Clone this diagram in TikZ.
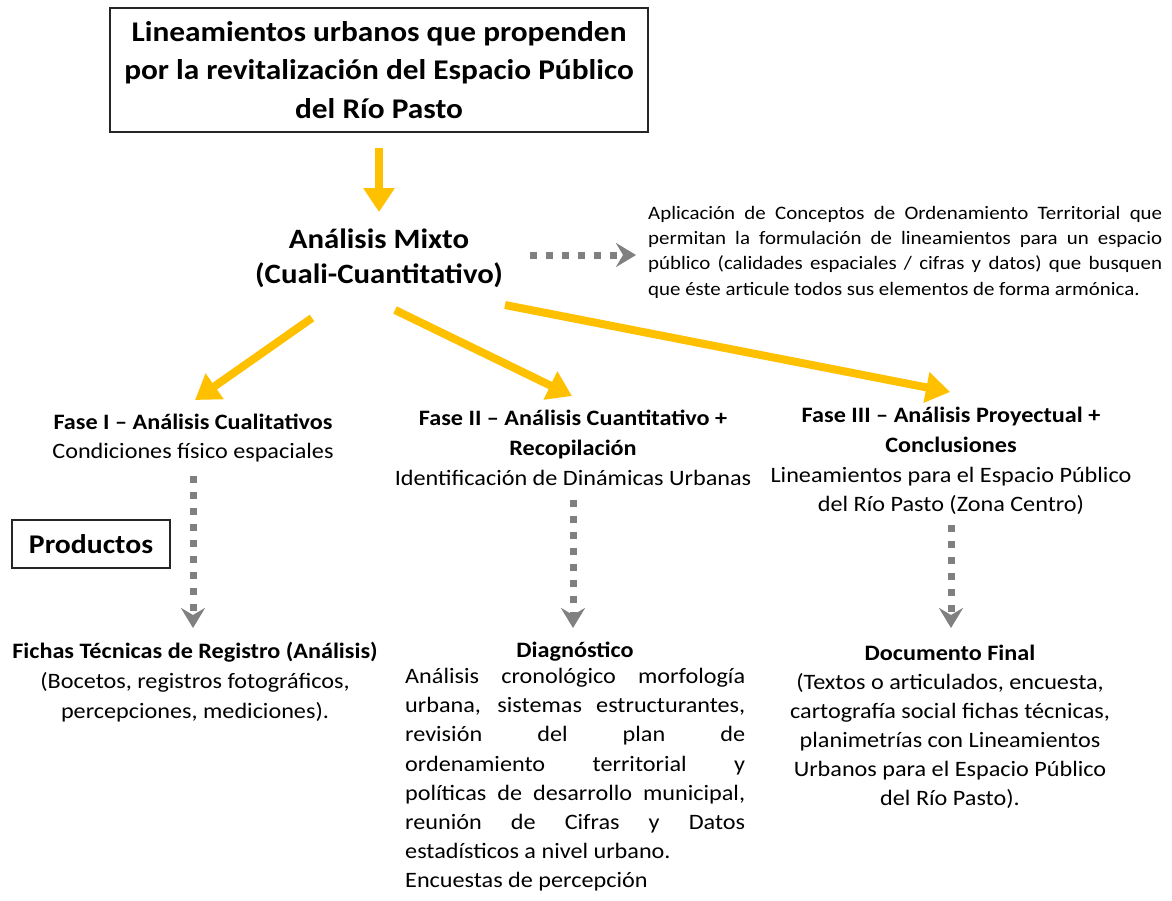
\documentclass[tikz,border=0pt]{standalone}
\usepackage{fontspec}
\setmainfont{Carlito}[FakeStretch=1.1]
\usetikzlibrary{arrows.meta}
\definecolor{ylw}{HTML}{FFC000}
\definecolor{gry}{HTML}{808080}
\begin{document}
\begin{tikzpicture}[x=1pt,y=-1pt,
  yarrow/.style={draw=ylw, line width=8pt, -{Triangle[length=24pt,width=30pt]}},
  garrow/.style={draw=gry, line width=7pt, dash pattern=on 7pt off 9pt, -{Stealth[length=20pt,width=24pt,inset=7pt]}},
  bodytext/.style={font=\fontsize{22}{29.8}\selectfont, align=center, inner sep=0pt},
  boxed/.style={draw=black!85, line width=1.6pt},
  jtext/.style={inner sep=0pt, align=justify, execute at begin node={\hyphenpenalty=10000 \tolerance=10000 \parfillskip=0pt plus 1fil}}
]
\useasboundingbox[fill=white] (0,0) rectangle (1172,900);

% title
\node[boxed, minimum width=538pt, minimum height=124pt, align=center, inner sep=0pt,
  font=\fontsize{28.5}{38.5}\selectfont\bfseries] (title) at (379,70)
  {Lineamientos urbanos que propenden\\por la revitalización del Espacio Público\\del Río Pasto};

\node[align=center, inner sep=0pt, font=\fontsize{28}{35}\selectfont\bfseries] (mixto) at (379,258)
  {Análisis Mixto\\(Cuali-Cuantitativo)};

\node[jtext, anchor=west, text width=514pt, font=\fontsize{19}{25.3}\selectfont] (aplic) at (648,252)
  {Aplicación de Conceptos de Ordenamiento Territorial que\linebreak
   permitan la formulación de lineamientos para un espacio\linebreak
   público (calidades espaciales / cifras y datos) que busquen\linebreak
   que éste articule todos sus elementos de forma armónica.\par};

% phases
\node[bodytext] (f1) at (193,438)
  {\textbf{Fase I – Análisis Cualitativos}\\Condiciones físico espaciales};
\node[bodytext] (f2) at (573,448)
  {\textbf{Fase II – Análisis Cuantitativo +}\\\textbf{Recopilación}\\Identificación de Dinámicas Urbanas};
\node[bodytext] (f3) at (951,461)
  {\textbf{Fase III – Análisis Proyectual +}\\\textbf{Conclusiones}\\Lineamientos para el Espacio Público\\del Río Pasto (Zona Centro)};

\node[boxed, minimum width=158pt, minimum height=48pt, inner sep=0pt,
  font=\fontsize{27}{30}\selectfont\bfseries] (prod) at (91,544) {Productos};

% products
\node[bodytext] (fichas) at (195,682)
  {\textbf{Fichas Técnicas de Registro (Análisis)}\\(Bocetos, registros fotográficos,\\percepciones, mediciones).};
\node[bodytext] (diag) at (575,652) {\textbf{Diagnóstico}};
\node[jtext, anchor=north west, text width=340pt, font=\fontsize{22}{29.2}\selectfont] (diagtxt) at (405,668)
  {Análisis cronológico morfología\linebreak
   urbana, sistemas estructurantes,\linebreak
   revisión del plan de\linebreak
   ordenamiento territorial y\linebreak
   políticas de desarrollo municipal,\linebreak
   reunión de Cifras y Datos\linebreak
   estadísticos a nivel urbano.\par
   Encuestas de percepción\par};
\node[bodytext, font=\fontsize{22}{29}\selectfont] (docf) at (950,727)
  {\textbf{Documento Final}\\(Textos o articulados, encuesta,\\cartografía social fichas técnicas,\\planimetrías con Lineamientos\\Urbanos para el Espacio Público\\del Río Pasto).};

% connector end points
\coordinate (tA) at (379,148);
\coordinate (tB) at (379,212);
\coordinate (m1) at (312,318);
\coordinate (e1) at (195,400);
\coordinate (m2) at (395,310);
\coordinate (e2) at (572,396);
\coordinate (m3) at (505,305);
\coordinate (e3) at (950,392);
\coordinate (h1) at (530,255);
\coordinate (h2) at (636,255);
\coordinate (g1a) at (193,476);
\coordinate (g1b) at (193,628);
\coordinate (g2a) at (573,500);
\coordinate (g2b) at (573,628);
\coordinate (g3a) at (951,525);
\coordinate (g3b) at (951,628);

\draw[yarrow] (tA) -- (tB);
\draw[yarrow] (m1) -- (e1);
\draw[yarrow] (m2) -- (e2);
\draw[yarrow] (m3) -- (e3);
\draw[garrow] (h1) -- (h2);
\draw[garrow] (g1a) -- (g1b);
\draw[garrow] (g2a) -- (g2b);
\draw[garrow] (g3a) -- (g3b);
\end{tikzpicture}
\end{document}
